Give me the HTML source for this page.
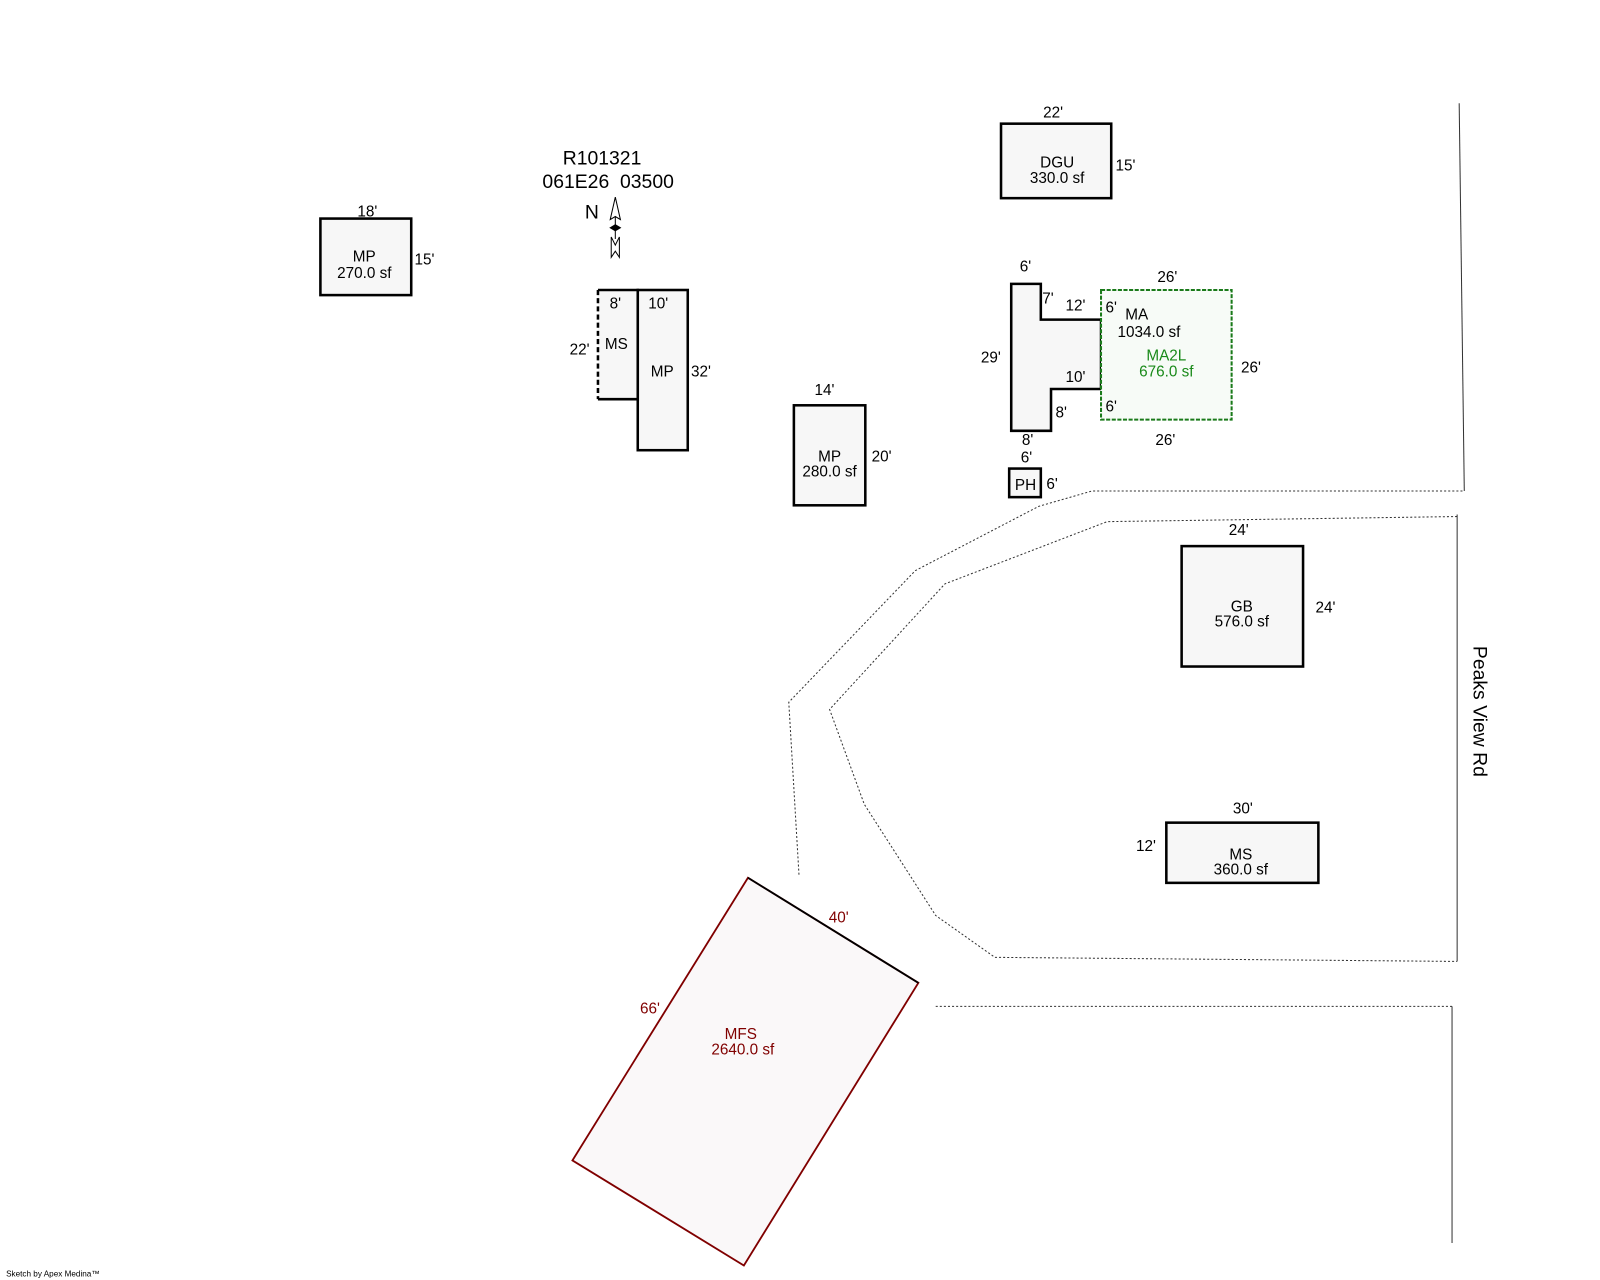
<!DOCTYPE html>
<html><head><style>html,body{margin:0;padding:0;background:#fff;}svg{display:block}</style></head>
<body>
<svg width="1600" height="1280" viewBox="0 0 1568 1254" xmlns="http://www.w3.org/2000/svg" font-family="Liberation Sans, Arial, sans-serif" font-size="15" text-anchor="middle">
<rect width="1568" height="1254" fill="#fff"/>
<g fill="none" stroke="#333" stroke-width="1">
<polyline stroke-dasharray="2,2" points="783,857 773,688 897,559 1018,496 1070,481 1435,481"/>
<polyline stroke-dasharray="2,2" points="1428,506 1085,511 926,572 813,695 847,788 917,897 975,938 1428,942"/>
<line x1="1430" y1="101" x2="1435" y2="481"/>
<line x1="1428" y1="504" x2="1428" y2="942"/>
<line stroke-dasharray="2,2" x1="917" y1="986" x2="1423" y2="986"/>
<line x1="1423" y1="986" x2="1423" y2="1218"/>
</g>
<g stroke="#000" stroke-width="2.5" fill="#f7f7f7">
<rect x="314" y="214" width="89" height="75"/>
<rect x="625" y="284" width="49" height="157"/>
<rect x="778" y="397" width="70" height="98"/>
<rect x="981" y="121" width="108" height="73"/>
<polygon points="991,278 1020,278 1020,313 1079,313 1079,381 1030,381 1030,422 991,422"/>
<rect x="989" y="459" width="31" height="28"/>
<rect x="1158" y="535" width="119" height="118"/>
<rect x="1143" y="806" width="149" height="59"/>
</g>
<rect x="586" y="284" width="39" height="107" fill="#f7f7f7" stroke="none"/>
<polyline points="586,284 625,284 625,391 586,391" fill="none" stroke="#000" stroke-width="2.5"/>
<line x1="586" y1="284" x2="586" y2="391" stroke="#000" stroke-width="2.5" stroke-dasharray="5,3"/>
<rect x="1079" y="284" width="128" height="127" fill="#f7fbf7" stroke="#1a7a1a" stroke-width="2" stroke-dasharray="4,1.5"/>
<polygon points="733,860 900,963 729,1240 561,1137" fill="#faf8f9" stroke="#800000" stroke-width="1.8"/>
<line x1="733" y1="860" x2="900" y2="963" stroke="#000" stroke-width="1.8"/>
<g stroke="#000" stroke-width="1" fill="#fff">
<polygon points="603,193 608,215 603,212 598,215"/>
<line x1="603" y1="212" x2="603" y2="234"/>
<polygon points="598,223 603,220 608,223 603,226" fill="#000"/>
<polygon points="599,232 603,240 607,232 607,252 603,246 599,252"/>
</g>
<text x="580" y="214" font-size="19">N</text>
<g font-size="19"><text x="590" y="161">R101321</text><text x="596" y="184" xml:space="preserve">061E26  03500</text></g>
<g fill="#000">
<text x="360" y="212">18'</text><text x="357" y="256">MP</text><text x="357" y="272">270.0 sf</text><text x="416" y="259">15'</text>
<text x="603" y="302">8'</text><text x="645" y="302">10'</text><text x="568" y="347">22'</text><text x="604" y="342">MS</text><text x="649" y="369">MP</text><text x="687" y="369">32'</text>
<text x="808" y="387">14'</text><text x="813" y="452">MP</text><text x="813" y="467">280.0 sf</text><text x="864" y="452">20'</text>
<text x="1032" y="115">22'</text><text x="1036" y="164">DGU</text><text x="1036" y="179">330.0 sf</text><text x="1103" y="167">15'</text>
<text x="1005" y="266">6'</text><text x="1027" y="297">7'</text><text x="1054" y="304">12'</text><text x="971" y="355">29'</text><text x="1054" y="374">10'</text><text x="1040" y="409">8'</text><text x="1007" y="436">8'</text><text x="1089" y="306">6'</text><text x="1089" y="403">6'</text>
<text x="1144" y="276">26'</text><text x="1226" y="365">26'</text><text x="1142" y="436">26'</text><text x="1114" y="313">MA</text><text x="1126" y="330">1034.0 sf</text>
<text x="1006" y="453">6'</text><text x="1005" y="480">PH</text><text x="1031" y="479">6'</text>
<text x="1214" y="524">24'</text><text x="1299" y="600">24'</text><text x="1217" y="599">GB</text><text x="1217" y="614">576.0 sf</text>
<text x="1218" y="797">30'</text><text x="1123" y="834">12'</text><text x="1216" y="842">MS</text><text x="1216" y="857">360.0 sf</text>
</g>
<g fill="#1a8a1a"><text x="1143" y="353">MA2L</text><text x="1143" y="369">676.0 sf</text></g>
<g fill="#800000"><text x="822" y="904">40'</text><text x="637" y="993">66'</text><text x="726" y="1018">MFS</text><text x="728" y="1033">2640.0 sf</text></g>
<text x="1450" y="697" font-size="19" transform="rotate(90 1450 697)" dy="6">Peaks View Rd</text>
<text x="6" y="1251" font-size="8" text-anchor="start">Sketch by Apex Medina™</text>
</svg>
</body></html>
